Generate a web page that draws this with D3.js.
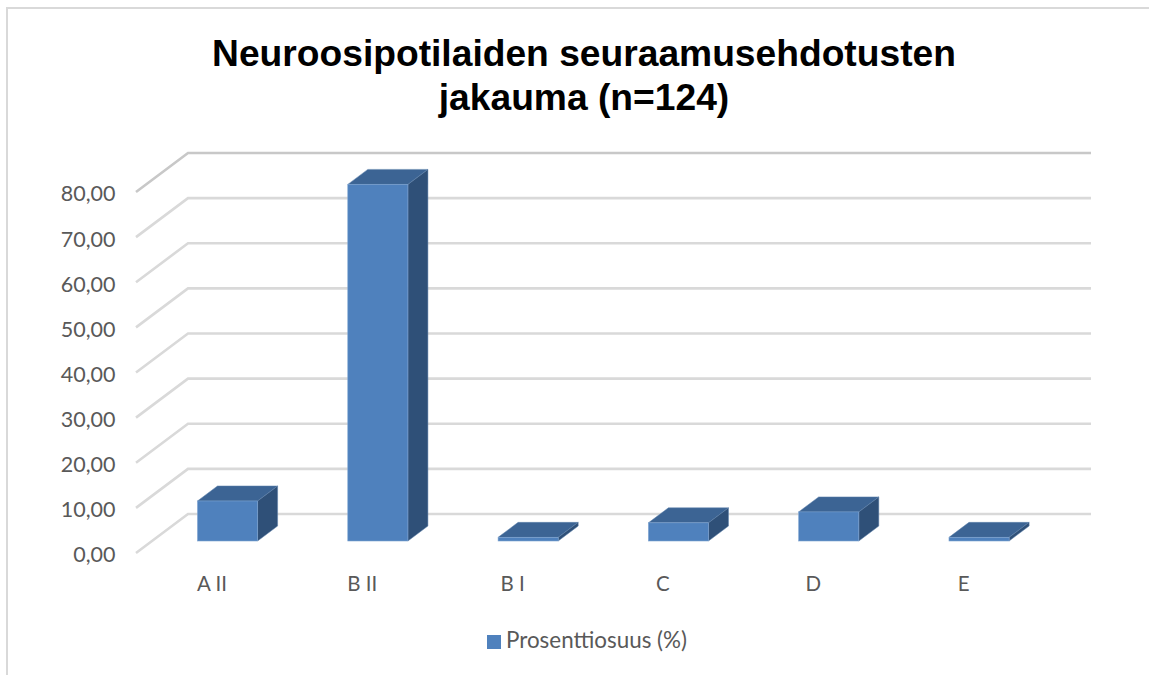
<!DOCTYPE html>
<html>
<head>
<meta charset="utf-8">
<script src="https://cdnjs.cloudflare.com/ajax/libs/d3/7.8.5/d3.min.js"></script>
<style>
  html, body { margin: 0; padding: 0; background: #fff; }
  svg { display: block; }
</style>
</head>
<body>
<script>
// chart values
const categories = ['A II', 'B II', 'B I', 'C', 'D', 'E'];
const percentages = [8.87, 79.03, 0.81, 4.03, 6.45, 0.81];
const yTicks = [0, 10, 20, 30, 40, 50, 60, 70, 80];
const titleLines = ['Neuroosipotilaiden seuraamusehdotusten', 'jakauma (n=124)'];
const seriesName = 'Prosenttiosuus (%)';

const width = 1149, height = 675;
const labelFont = 'Lato, sans-serif';

// fake 3d offsets of the column chart
const depthX = 20, depthY = 15;
const wallX = 52, wallY = 39;

const svg = d3.select('body').append('svg')
    .attr('width', width)
    .attr('height', height);

// chart frame, only top and left edges are visible
svg.append('path')
    .attr('d', 'M7,675V8H1149')
    .attr('fill', 'none')
    .attr('stroke', '#d9d9d9')
    .attr('stroke-width', 2);

svg.append('text')
    .attr('text-anchor', 'middle')
    .attr('font-family', 'Liberation Sans, Arial, sans-serif')
    .attr('font-weight', 'bold')
    .attr('font-size', 37.2)
    .attr('fill', '#000')
    .selectAll('tspan')
    .data(titleLines)
    .enter().append('tspan')
    .attr('x', 584)
    .attr('y', (d, i) => 66 + i * 44)
    .text(d => d);

const x = d3.scaleBand()
    .domain(categories)
    .range([152.4, 1054.2])
    .paddingInner(0.6)
    .paddingOuter(0.3);

// y runs on the front plane of the columns
const y = d3.scaleLinear()
    .domain([0, 80])
    .range([541, 180]);

// back wall and side wall gridlines
const wallShift = 27;
const grid = svg.append('g')
    .attr('fill', 'none')
    .attr('stroke-width', 2.6);

grid.selectAll('path')
    .data(yTicks)
    .enter().append('path')
    .attr('stroke', d => d === 80 ? '#c8c8c8' : '#d9d9d9')
    .attr('d', d => {
      const wy = y(d) - wallShift;
      return 'M' + (188 - wallX) + ',' + (wy + wallY) + 'L188,' + wy + 'H1091';
    });

// value axis, only its labels are shown
const yAxis = d3.axisLeft(y)
    .tickValues(yTicks)
    .tickSize(0)
    .tickPadding(0)
    .tickFormat(d => d3.format('.2f')(d).replace('.', ','));

svg.append('g')
    .attr('transform', 'translate(115.5,14)')
    .call(yAxis)
    .call(g => g.select('.domain').remove())
    .call(g => g.selectAll('text')
      .attr('font-family', labelFont)
      .attr('font-size', 21.5)
      .attr('fill', '#595959'));

// category axis, labels sit a bit left of the column centre
const xAxis = d3.axisBottom(x)
    .tickSize(0)
    .tickPadding(0);

svg.append('g')
    .attr('transform', 'translate(-15.5,576)')
    .call(xAxis)
    .call(g => g.select('.domain').remove())
    .call(g => g.selectAll('text')
      .attr('font-family', labelFont)
      .attr('font-size', 20.5)
      .attr('fill', '#595959'));

// columns: top, side, then front face
const bars = svg.selectAll('.bar')
    .data(categories.map((c, i) => ({ c: c, v: percentages[i] })))
    .enter().append('g')
    .attr('class', 'bar');

bars.append('path')
    .attr('fill', '#3c6494')
    .attr('stroke', '#5f82ad')
    .attr('stroke-width', 0.5)
    .attr('d', d => {
      const x0 = x(d.c), x1 = x0 + x.bandwidth(), t = y(d.v);
      return 'M' + x0 + ',' + t + 'L' + (x0 + depthX) + ',' + (t - depthY) +
        'H' + (x1 + depthX) + 'L' + x1 + ',' + t + 'Z';
    });

bars.append('path')
    .attr('fill', '#2f5078')
    .attr('stroke', '#5f82ad')
    .attr('stroke-width', 0.5)
    .attr('d', d => {
      const x1 = x(d.c) + x.bandwidth(), t = y(d.v), b = y(0);
      return 'M' + x1 + ',' + t + 'L' + (x1 + depthX) + ',' + (t - depthY) +
        'V' + (b - depthY) + 'L' + x1 + ',' + b + 'Z';
    });

bars.append('rect')
    .attr('x', d => x(d.c))
    .attr('y', d => y(d.v))
    .attr('width', x.bandwidth())
    .attr('height', d => y(0) - y(d.v))
    .attr('fill', '#4f81bd')
    .attr('stroke', '#7ea3d0')
    .attr('stroke-width', 0.6);

// legend
const legend = svg.append('g').attr('transform', 'translate(487,635)');
legend.append('rect')
    .attr('width', 14)
    .attr('height', 14)
    .attr('fill', '#4f81bd');
legend.append('text')
    .attr('x', 19)
    .attr('y', 13)
    .attr('font-family', labelFont)
    .attr('font-size', 22.4)
    .attr('fill', '#595959')
    .text(seriesName);
</script>
</body>
</html>
